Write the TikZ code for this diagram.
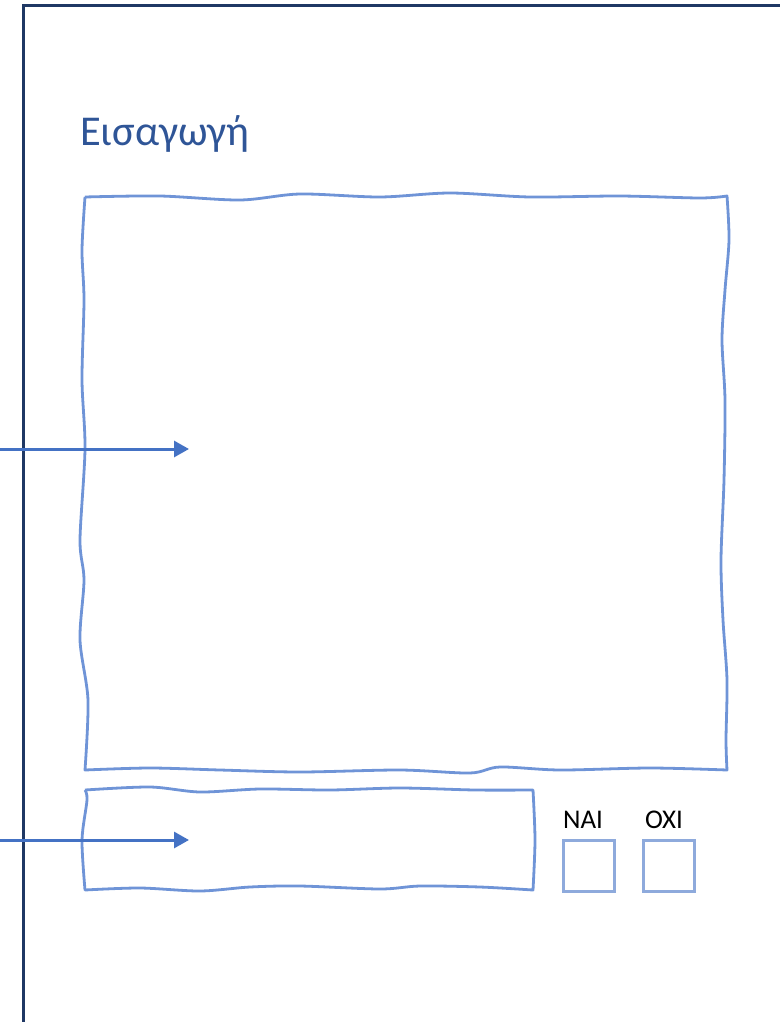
\documentclass[tikz,border=0pt]{standalone}
\usepackage{fontspec}
\setmainfont{Carlito}
\definecolor{frameblue}{HTML}{1F3864}
\definecolor{titleblue}{HTML}{2F5597}
\definecolor{sketch}{HTML}{6F94D7}
\definecolor{arrowblue}{HTML}{4472C4}
\definecolor{tick}{HTML}{8EAADC}
\usetikzlibrary{arrows.meta}

\begin{document}
\begin{tikzpicture}[x=1pt, y=-1pt,
	wavy/.style={draw=sketch, line width=2.8pt, line join=round},
	pointer/.style={draw=arrowblue, line width=3pt, -{Triangle[length=15pt, width=16pt]}},
	checkbox/.style={rectangle, draw=tick, line width=2.6pt, minimum size=51pt, inner sep=0pt},
	choice/.style={font=\fontsize{27}{30}\selectfont, anchor=base}]
	\useasboundingbox (0,0) rectangle (779,1022);
	\draw[frameblue, line width=3pt] (23,1025) -- (23,6) -- (782,6);
	\node[anchor=base west, inner sep=0pt, text=titleblue, font=\fontsize{42.5}{48}\selectfont] (title) at (80,146) {Εισαγωγή};
	% big sketched box
	\draw[wavy] plot[smooth] coordinates {(85,197) (160,196) (240,200) (300,194) (380,197) (450,193) (530,197) (620,196) (700,198) (727,196)}
		-- plot[smooth] coordinates {(727,196) (729,240) (725,290) (722,340) (725,400) (724,480) (721,560) (723,620) (727,680) (726,740) (727,770)}
		-- plot[smooth] coordinates {(727,770) (650,768) (560,770) (500,767) (470,773) (400,770) (300,772) (220,770) (150,768) (85,770)}
		-- plot[smooth] coordinates {(85,770) (88,700) (80,640) (84,580) (80,540) (85,449) (82,380) (84,300) (82,250) (85,197)};
	% small sketched box
	\draw[wavy] plot[smooth] coordinates {(85,790) (150,787) (200,792) (260,789) (330,790) (400,788) (475,790) (533,790)}
		-- plot[smooth] coordinates {(533,790) (535,840) (533,890)}
		-- plot[smooth] coordinates {(533,890) (480,887) (420,886) (380,889) (300,886) (250,887) (200,891) (140,888) (85,890)}
		-- plot[smooth] coordinates {(85,890) (82,840) (87,800) (85,790)};
	\coordinate (in1) at (0,449);
	\coordinate (out1) at (189,449);
	\coordinate (in2) at (0,840);
	\coordinate (out2) at (189,840);
	\foreach \s/\t in {in1/out1, in2/out2}
		\draw[pointer] (\s) -- (\t);
	\node[checkbox] (yesbox) at (589,866) {};
	\node[checkbox] (nobox) at (669,866) {};
	\node[choice] (yes) at (583,828) {NAI};
	\node[choice] (no) at (664,828) {OXI};
\end{tikzpicture}
\end{document}
